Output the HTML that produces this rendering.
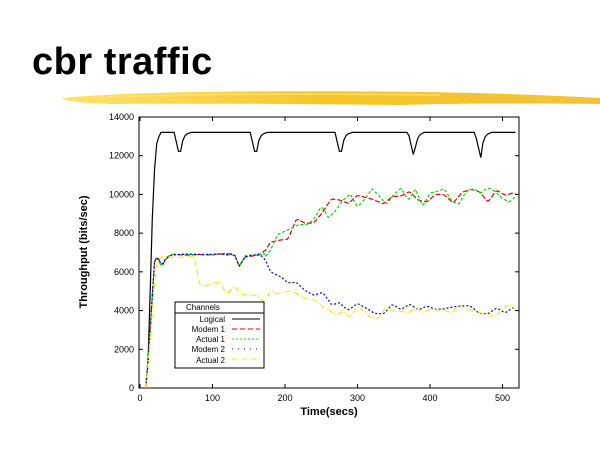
<!DOCTYPE html>
<html><head><meta charset="utf-8">
<style>
html,body{margin:0;padding:0;background:#fff;width:600px;height:450px;overflow:hidden}
.t{position:absolute;left:32px;top:41px;font:bold 38px "Liberation Sans",sans-serif;color:#000;letter-spacing:0.5px}
</style></head><body>
<div class="t">cbr traffic</div>
<svg id="s" width="600" height="450" style="position:absolute;left:0;top:0" font-family="Liberation Sans, sans-serif">
<defs><linearGradient id="g" x1="0" x2="1"><stop offset="0" stop-color="#fde36a"/><stop offset="0.5" stop-color="#f5c526"/><stop offset="1" stop-color="#f3c23a"/></linearGradient></defs>
<path d="M62,98 C120,92 250,90 420,92 C500,93 560,96 600,98 L600,104 C540,103 470,103 400,105 C300,104 200,103 110,104 C80,103 65,101 62,98Z" fill="url(#g)"/>
<path d="M90,97 C200,94 300,93 440,95" stroke="#fbe27a" stroke-width="2" fill="none" opacity="0.7"/>
<rect x="139" y="117" width="380" height="271" fill="none" stroke="#000" stroke-width="1"/>
<g id="ax" font-size="9" fill="#000"></g>
<text x="329" y="415" font-size="11" font-weight="bold" text-anchor="middle">Time(secs)</text>
<text transform="translate(87,252) rotate(-90)" font-size="11" font-weight="bold" text-anchor="middle">Throughput (bits/sec)</text>
<g id="d" fill="none" stroke-width="1.2"></g>
<g font-size="8">
<rect x="175" y="302" width="89" height="66" fill="#fff" stroke="#000"/>
<line x1="175" y1="313" x2="264" y2="313" stroke="#000"/>
<text x="186" y="310">Channels</text>
<text x="225" y="322" text-anchor="end">Logical</text>
<text x="225" y="332" text-anchor="end">Modem 1</text>
<text x="225" y="342" text-anchor="end">Actual 1</text>
<text x="225" y="352" text-anchor="end">Modem 2</text>
<text x="225" y="363" text-anchor="end">Actual 2</text>
<line x1="232" y1="319" x2="260" y2="319" stroke="#000"/>
<line x1="232" y1="329" x2="260" y2="329" stroke="#e00" stroke-dasharray="5,3"/>
<line x1="232" y1="339" x2="260" y2="339" stroke="#0e0" stroke-dasharray="2,2"/>
<line x1="232" y1="349" x2="260" y2="349" stroke="#00e" stroke-dasharray="1,5"/>
<line x1="232" y1="359" x2="260" y2="359" stroke="#ee0" stroke-dasharray="5,2,1,2"/>
</g>
</svg>
<script>
var X=function(t){return 140+t*0.725},Y=function(v){return 388-v*0.01936};
var ax=document.getElementById('ax'),h='';
for(var v=0;v<=14000;v+=2000){h+='<text x="134" y="'+(Y(v)+3)+'" text-anchor="end">'+v+'</text><line x1="139" x2="143" y1="'+Y(v)+'" y2="'+Y(v)+'" stroke="#000"/><line x1="515" x2="519" y1="'+Y(v)+'" y2="'+Y(v)+'" stroke="#000"/>';}
for(var t=0;t<=500;t+=100){h+='<text x="'+X(t)+'" y="401" text-anchor="middle">'+t+'</text><line x1="'+X(t)+'" x2="'+X(t)+'" y1="388" y2="384" stroke="#000"/><line x1="'+X(t)+'" x2="'+X(t)+'" y1="117" y2="121" stroke="#000"/>';}
ax.innerHTML=h;
var seed=3;function r(){seed=(seed*16807)%2147483647;return seed/2147483647-0.5;}
function lin(t,pts){for(var i=1;i<pts.length;i++){if(t<=pts[i][0]){var a=pts[i-1],b=pts[i];return a[1]+(b[1]-a[1])*(t-a[0])/(b[0]-a[0]);}}return pts[pts.length-1][1];}
function path(f){var s='';for(var t=8;t<=518;t+=3){s+=(s?'L':'M')+X(t).toFixed(1)+','+Y(Math.max(0,f(t))).toFixed(1);}return s;}
function smooth(amp,step){var vals={},prev=0;return function(t,scale){var k=Math.floor(t/step);if(!(k in vals))vals[k]=r()*amp;var k2=k+1;if(!(k2 in vals))vals[k2]=r()*amp;var f=(t-k*step)/step;return (vals[k]*(1-f)+vals[k2]*f)*scale;};}
function logical(t){if(t<10)return 0;if(t<28)return lin(t,[[10,0],[14,5000],[18,10000],[22,12500],[28,13200]]);var v=13200;[55,160,277,378,470].forEach(function(c){var d=t-c;if(d>-8&&d<0)v-=1300*(d+8)/8;else if(d>=0&&d<14)v-=1300*Math.exp(-d/3.5);});return v;}
var base1=[[8,0],[14,3000],[20,6500],[24,6800],[30,6300],[36,6700],[45,6900],[130,6900],[137,6300],[145,6800],[165,6900],[180,7400],[200,8000],[230,8700],[260,9300],[290,9800],[320,9900],[400,9850],[520,9850]];
var m2=[[8,0],[14,3000],[20,6500],[24,6800],[30,6300],[36,6700],[45,6900],[130,6900],[137,6300],[145,6800],[165,6900],[190,5900],[230,5200],[260,4700],[280,4100],[520,4000]];
var a2=[[8,0],[14,2500],[22,6300],[30,6800],[75,6800],[82,5300],[120,5100],[150,5000],[170,4700],[200,4900],[250,4500],[280,3900],[520,4000]];
var d=document.getElementById('d'),o='';
o+='<path d="'+path(logical)+'" stroke="#000"/>';
seed=5;var n1=smooth(900,12);o+='<path d="'+path(function(t){return lin(t,base1)+n1(t,t>170?1:0.1)})+'" stroke="#e00" stroke-dasharray="5,2"/>';
seed=11;var n2=smooth(1000,10);o+='<path d="'+path(function(t){return lin(t,base1)+n2(t,t>170?1:0.15)})+'" stroke="#0d0" stroke-dasharray="3,2"/>';
seed=17;var n3=smooth(600,12);o+='<path d="'+path(function(t){return lin(t,m2)+n3(t,t>170?1:0.1)})+'" stroke="#00e" stroke-dasharray="2,2"/>';
seed=23;var n4=smooth(700,10);o+='<path d="'+path(function(t){return lin(t,a2)+n4(t,t>90?1:0.15)})+'" stroke="#ee0" stroke-dasharray="5,2,1,2"/>';
d.innerHTML=o;
</script>
</body></html>
